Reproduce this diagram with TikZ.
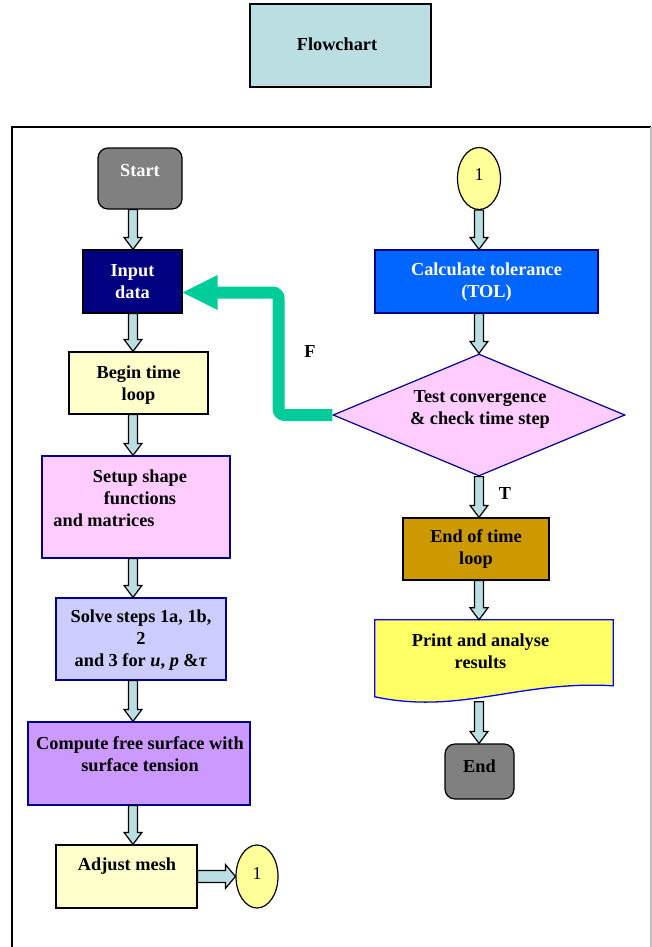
\documentclass[tikz,border=0pt]{standalone}
\usepackage{fontspec}
\setmainfont{Liberation Serif}
\usetikzlibrary{shapes.geometric,calc}
\definecolor{arrowfill}{RGB}{186,222,226}
\definecolor{titlefill}{RGB}{186,222,226}
\definecolor{greyfill}{RGB}{128,128,128}
\definecolor{navyfill}{RGB}{0,0,128}
\definecolor{lightyellow}{RGB}{255,255,204}
\definecolor{lightpink}{RGB}{255,204,255}
\definecolor{lavender}{RGB}{204,204,255}
\definecolor{violetfill}{RGB}{204,153,255}
\definecolor{connfill}{RGB}{255,255,153}
\definecolor{bluefill}{RGB}{0,102,255}
\definecolor{goldfill}{RGB}{204,153,0}
\definecolor{printfill}{RGB}{255,255,102}
\definecolor{greenarrow}{RGB}{0,204,153}
\definecolor{navyline}{RGB}{0,0,140}
\definecolor{blueline}{RGB}{0,0,255}
\newcommand{\vblockarrow}[2]{%
  \draw[blockarr] let \p1=(#1), \p2=(#2) in
    (\x1-4.5pt,\y1) -- (\x1+4.5pt,\y1) -- (\x1+4.5pt,\y2+12pt) -- (\x1+9pt,\y2+12pt)
    -- (\x1,\y2) -- (\x1-9pt,\y2+12pt) -- (\x1-4.5pt,\y2+12pt) -- cycle;}
\newcommand{\hblockarrow}[2]{%
  \draw[blockarr] let \p1=(#1), \p2=(#2) in
    (\x1,\y1+6pt) -- (\x2-10pt,\y1+6pt) -- (\x2-10pt,\y1+12pt) -- (\x2,\y1)
    -- (\x2-10pt,\y1-12pt) -- (\x2-10pt,\y1-6pt) -- (\x1,\y1-6pt) -- cycle;}
\begin{document}
\begin{tikzpicture}[x=1pt,y=-1pt,
  box/.style={draw, line width=1.2pt, inner sep=0pt, rectangle},
  txt/.style={font=\fontsize{18.3}{22}\selectfont\bfseries, align=center, inner sep=0pt},
  plain/.style={font=\fontsize{18}{22}\selectfont, inner sep=0pt},
  blockarr/.style={draw=black, line width=1.2pt, fill=arrowfill, line join=miter},
  conn/.style={draw, ellipse, line width=1.2pt, fill=connfill, inner sep=0pt}]
\useasboundingbox (0,0) rectangle (652,947);
% frame
\draw[line width=1.6pt] (12,950) -- (12,127) -- (651,127);
\draw[black!25, line width=1.2pt] (651,127) -- (651,950);
% title
\node[box, line width=2pt, fill=titlefill, minimum width=181, minimum height=83] (title) at (340.5,45.5) {};
\node[txt] (titleT) at (337,44) {Flowchart};
% column coordinates
\coordinate (cL) at (133,0);
\coordinate (cR) at (479,0);
% left column
\node[box, rounded corners=10pt, fill=greyfill, minimum width=84, minimum height=61] (start) at (140,178.5) {};
\node[txt, text=white] (startT) at (140,171) {Start};
\node[box, fill=navyfill, minimum width=99, minimum height=63] (input) at (132.5,281.5) {};
\node[txt, text=white] (inputT) at (132.5,282) {Input\\data};
\node[box, fill=lightyellow, minimum width=139, minimum height=62] (begin) at (138.5,383) {};
\node[txt] (beginT) at (138.5,385) {Begin time\\loop};
\node[box, draw=navyline, fill=lightpink, minimum width=188, minimum height=102] (setup) at (136,507) {};
\node[txt] (setupT) at (140,498.5) {Setup shape\\functions\\\hspace*{-72pt}and matrices};
\node[box, draw=navyline, fill=lavender, minimum width=170, minimum height=82] (solve) at (141,639) {};
\node[txt] (solveT) at (141,640) {Solve steps 1a, 1b,\\2\\and 3 for \textit{u}, \textit{p} \&\textit{τ}};
\node[box, draw=navyline, fill=violetfill, minimum width=222, minimum height=83] (compute) at (139,763.5) {};
\node[txt] (computeT) at (140,754) {Compute free surface with\\surface tension};
\node[box, fill=lightyellow, minimum width=141, minimum height=63] (adjust) at (126.5,876.5) {};
\node[txt] (adjustT) at (127,866) {Adjust mesh};
\node[conn, minimum width=42, minimum height=63] (connL) at (257,876.5) {};
\node[plain] (connLT) at (257,874) {1};
% right column
\node[conn, minimum width=43, minimum height=62] (connR) at (479,178.5) {};
\node[plain] (connRT) at (479,175) {1};
\node[box, draw=navyline, fill=bluefill, minimum width=223, minimum height=63] (calc) at (486.5,281.5) {};
\node[txt, text=white] (calcT) at (486.5,282) {Calculate tolerance\\(TOL)};
\node[draw=navyline, line width=1.2pt, fill=lightpink, diamond, inner sep=0pt, minimum width=292, minimum height=122] (diam) at (479,415) {};
\node[txt] (diamT) at (480,409) {Test convergence\\\& check time step};
\node[box, fill=goldfill, minimum width=146, minimum height=62] (endloop) at (476,549) {};
\node[txt] (endloopT) at (476,549) {End of time\\loop};
\node[inner sep=0pt, minimum width=238, minimum height=83] (print) at (494,661.5) {};
\draw[line width=1.3pt, draw=blueline, fill=printfill]
  (print.north west) -- (print.north east) -- ($(print.north east)+(0,66)$)
  .. controls (520,680) and (460,715) .. ($(print.north west)+(0,77)$) -- cycle;
\node[txt] (printT) at (480.5,651) {Print and analyse\\results};
\node[box, rounded corners=10pt, fill=greyfill, minimum width=69, minimum height=55] (end) at (479.5,771.5) {};
\node[txt] (endT) at (479.5,766) {End};
% labels
\node[txt] (F) at (310,352) {F};
\node[txt] (T) at (505,494) {T};
% block arrows
\vblockarrow{start.south -| cL}{input.north -| cL}
\vblockarrow{input.south -| cL}{begin.north -| cL}
\vblockarrow{begin.south -| cL}{setup.north -| cL}
\vblockarrow{setup.south -| cL}{solve.north -| cL}
\vblockarrow{solve.south -| cL}{compute.north -| cL}
\vblockarrow{compute.south -| cL}{adjust.north -| cL}
\hblockarrow{adjust.east}{connL.west}
\vblockarrow{connR.south -| cR}{calc.north -| cR}
\vblockarrow{calc.south -| cR}{diam.north}
\vblockarrow{diam.south}{endloop.north -| cR}
\vblockarrow{endloop.south -| cR}{print.north -| cR}
\vblockarrow{$(print.north west -| cR)+(0,82)$}{end.north -| cR}
% green feedback arrow
\draw[greenarrow, line width=12pt, rounded corners=6pt]
  (diam.west) -| ($(input.east)+(96,11)$) -- ($(input.east)+(33,11)$);
\fill[greenarrow] ($(input.east)+(35,-6.5)$) -- ($(input.east)+(0,11)$) -- ($(input.east)+(35,28.5)$) -- cycle;
\end{tikzpicture}
\end{document}
